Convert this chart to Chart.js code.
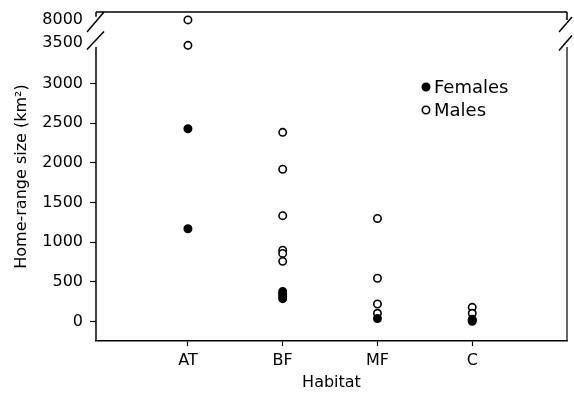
<!DOCTYPE html>
<html>
<head>
<meta charset="utf-8">
<script src="https://cdn.jsdelivr.net/npm/chart.js@4.4.0/dist/chart.umd.min.js"></script>
<style>
  html, body { margin: 0; padding: 0; background: #fff; }
  #wrap { width: 574px; height: 396px; }
</style>
</head>
<body>
<div id="wrap"><canvas id="rangeChart" width="574" height="396"></canvas></div>
<script>
const habitats = ["AT", "BF", "MF", "C"];
// home-range sizes (km2), one list per habitat
const femaleSizes = [
  [2430, 1170],
  [290, 320, 350, 380],
  [40],
  [5, 20, 30],
];
const maleSizes = [
  [8000, 3470],
  [2385, 1920, 1335, 900, 860, 760],
  [1300, 547, 223, 106],
  [181, 106],
];
const yTickValues = [0, 500, 1000, 1500, 2000, 2500, 3000, 3500, 8000];

const ink = "#000";
const fontFamily = "'DejaVu Sans', sans-serif";

// broken y axis: 0-3000 linear, then a short piece round 3500 and one round 8000
function toAxis(v) {
  if (v <= 3000) return v;
  if (v < 5000) return 3510 + (v - 3500);
  return 3800 + (v - 8000);
}

function toPoints(groups) {
  const pts = [];
  groups.forEach((vals, i) => {
    vals.forEach((v) => pts.push({ x: i + 1, y: toAxis(v) }));
  });
  return pts;
}

// frame with break marks + legend inside the plot
const brokenFrame = {
  id: "brokenFrame",
  afterDraw(chart) {
    const { ctx, chartArea: a, scales } = chart;
    const y = scales.y;
    ctx.save();
    ctx.strokeStyle = ink;
    ctx.lineWidth = 1.5;
    ctx.lineCap = "butt";

    const gapTop = y.getPixelForValue(3840);
    const gapBottom = y.getPixelForValue(3460);
    const line = (x1, y1, x2, y2) => {
      ctx.beginPath();
      ctx.moveTo(x1, y1);
      ctx.lineTo(x2, y2);
      ctx.stroke();
    };

    // top border
    line(a.left, a.top, a.right, a.top);
    // left axis with gap
    line(a.left, a.top, a.left, gapTop);
    line(a.left, gapBottom, a.left, a.bottom);
    // right border with gap
    line(a.right, a.top, a.right, a.top + 8);
    ctx.strokeStyle = "#333";
    line(a.right, gapBottom, a.right, a.bottom);
    ctx.strokeStyle = ink;

    // slashes
    const s1 = y.getPixelForValue(3775);
    const s2 = y.getPixelForValue(3540);
    line(a.left - 9, s1 + 10, a.left + 8, s1 - 10);
    line(a.left - 9, s2 + 9, a.left + 8, s2 - 9);
    line(a.right - 8, s1 + 10, a.right + 5, s1 - 5);
    line(a.right - 8, s2 + 10, a.right + 5, s2 - 5);

    // legend
    const lx = a.left + 330;
    const rows = [a.top + 75, a.top + 98];
    ctx.font = "18px " + fontFamily;
    ctx.textBaseline = "middle";
    ctx.textAlign = "left";
    chart.data.datasets.forEach((ds, i) => {
      ctx.beginPath();
      ctx.arc(lx, rows[i], ds.pointRadius, 0, Math.PI * 2);
      ctx.fillStyle = ds.pointBackgroundColor;
      ctx.fill();
      ctx.lineWidth = ds.pointBorderWidth;
      ctx.strokeStyle = ds.pointBorderColor;
      ctx.stroke();
      ctx.fillStyle = ink;
      ctx.fillText(ds.label, lx + 8, rows[i] + 1);
    });
    ctx.restore();
  },
};

const ctx = document.getElementById("rangeChart").getContext("2d");
new Chart(ctx, {
  type: "scatter",
  data: {
    datasets: [
      {
        label: "Females",
        data: toPoints(femaleSizes),
        pointRadius: 3.7,
        pointBorderWidth: 1.6,
        pointBackgroundColor: ink,
        pointBorderColor: ink,
      },
      {
        label: "Males",
        data: toPoints(maleSizes),
        pointRadius: 3.7,
        pointBorderWidth: 1.6,
        pointBackgroundColor: "#fff",
        pointBorderColor: ink,
      },
    ],
  },
  options: {
    responsive: false,
    animation: false,
    layout: { padding: { left: 0, right: 7, top: 12, bottom: 0 } },
    plugins: {
      legend: { display: false },
      tooltip: { enabled: false },
    },
    scales: {
      x: {
        type: "linear",
        min: 0.03,
        max: 5,
        afterBuildTicks: (s) => {
          s.ticks = habitats.map((h, i) => ({ value: i + 1 }));
        },
        afterFit: (s) => {
          s.height = 55;
          s.paddingLeft = 0;
          s.paddingRight = 0;
        },
        ticks: {
          autoSkip: false,
          maxRotation: 0,
          padding: 5,
          color: ink,
          font: { family: fontFamily, size: 16 },
          callback: (v) => habitats[v - 1],
        },
        grid: {
          display: true,
          drawOnChartArea: false,
          drawTicks: true,
          tickLength: 5,
          tickColor: ink,
          tickWidth: 1.2,
        },
        border: { display: true, color: ink, width: 1.6 },
        title: {
          display: true,
          text: "Habitat",
          color: ink,
          font: { family: fontFamily, size: 16 },
          padding: { top: 0, bottom: 4 },
        },
      },
      y: {
        type: "linear",
        min: -243,
        max: 3900,
        afterBuildTicks: (s) => {
          s.ticks = yTickValues.map((v) => ({ value: toAxis(v) }));
        },
        afterFit: (s) => {
          s.width = 96;
          s.paddingTop = 0;
          s.paddingBottom = 0;
        },
        ticks: {
          autoSkip: false,
          padding: 7,
          color: ink,
          font: { family: fontFamily, size: 16 },
          callback: (v, i) => String(yTickValues[i]),
        },
        grid: {
          display: true,
          drawOnChartArea: false,
          drawTicks: true,
          tickLength: 6,
          tickWidth: 1.2,
          tickColor: (c) => (c.tick && c.tick.value > 3000 ? "rgba(0,0,0,0)" : ink),
        },
        border: { display: false },
        title: {
          display: true,
          text: "Home-range size (km²)",
          color: ink,
          font: { family: fontFamily, size: 16 },
          padding: { top: 12, bottom: 0 },
        },
      },
    },
  },
  plugins: [brokenFrame],
});
</script>
</body>
</html>
